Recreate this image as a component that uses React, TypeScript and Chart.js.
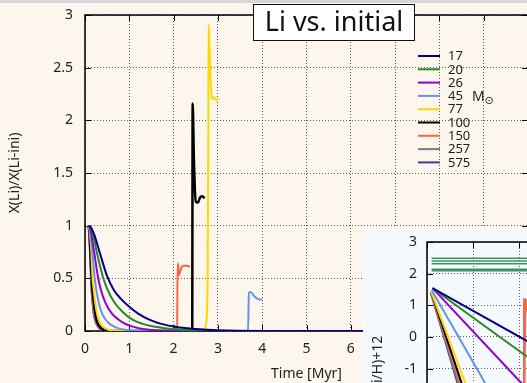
import React, { useEffect, useRef } from 'react';
import { Chart, registerables } from 'chart.js';

Chart.register(...registerables);

const FONT = '"Noto Sans", "DejaVu Sans", sans-serif';

// ---------- main chart data ----------
const masses = ['17', '20', '26', '45', '77', '100', '150', '257', '575'];
const colors = ['#00008b', '#228b22', '#9400d3', '#6495ed', '#ffd700', '#000000', '#ff6347', '#708090', '#483d8b'];

const xTicks = [0, 1, 2, 3, 4, 5, 6, 7, 8, 9, 10];
const yTicks = [0, 0.5, 1, 1.5, 2, 2.5, 3];

const t17 = [0.08, 0.14, 0.22, 0.35, 0.5, 0.65, 0.8, 1.0, 1.2, 1.44, 1.7, 1.97, 2.25, 2.5, 3.0, 4.0, 10];
const v17 = [1, 0.98, 0.9, 0.72, 0.52, 0.39, 0.31, 0.23, 0.165, 0.11, 0.07, 0.045, 0.028, 0.018, 0.006, 0, 0];

const t20 = [0.08, 0.13, 0.19, 0.27, 0.4, 0.5, 0.65, 0.85, 1.06, 1.3, 1.55, 1.8, 2.1, 2.5, 3.0, 3.5, 10];
const v20 = [1, 0.98, 0.9, 0.74, 0.52, 0.4, 0.28, 0.18, 0.11, 0.068, 0.043, 0.027, 0.015, 0.006, 0.001, 0, 0];

const t26 = [0.08, 0.11, 0.15, 0.21, 0.29, 0.36, 0.46, 0.6, 0.76, 0.9, 1.06, 1.3, 1.6, 2.0, 2.5, 10];
const v26 = [1, 0.98, 0.9, 0.74, 0.52, 0.39, 0.27, 0.17, 0.107, 0.07, 0.044, 0.02, 0.008, 0.002, 0, 0];

const t45 = [0.08, 0.1, 0.13, 0.17, 0.22, 0.26, 0.31, 0.38, 0.47, 0.55, 0.65, 0.8, 1.0, 1.3, 3.68, 3.7, 3.74, 3.8, 3.88, 3.95, 4.0];
const v45 = [1, 0.98, 0.9, 0.74, 0.5, 0.38, 0.27, 0.17, 0.107, 0.07, 0.044, 0.02, 0.006, 0, 0, 0.36, 0.37, 0.34, 0.31, 0.3, 0.3];

const t77 = [0.08, 0.1, 0.12, 0.145, 0.17, 0.2, 0.23, 0.27, 0.31, 0.35, 0.4, 0.5, 0.65, 0.8, 2.65, 2.71, 2.75, 2.77, 2.785, 2.79, 2.81, 2.84, 2.87, 2.92, 2.96, 3.02];
const v77 = [1, 0.97, 0.88, 0.74, 0.5, 0.38, 0.27, 0.17, 0.107, 0.07, 0.044, 0.015, 0.003, 0, 0, 0.03, 0.15, 0.6, 2.0, 2.91, 2.7, 2.35, 2.2, 2.22, 2.19, 2.21];

const t100 = [0.08, 0.095, 0.11, 0.13, 0.15, 0.17, 0.2, 0.23, 0.26, 0.29, 0.33, 0.4, 0.5, 0.6, 2.42, 2.43, 2.46, 2.5, 2.55, 2.6, 2.65, 2.7];
const v100 = [1, 0.97, 0.88, 0.7, 0.5, 0.38, 0.27, 0.17, 0.107, 0.07, 0.044, 0.015, 0.003, 0, 0, 2.16, 1.6, 1.23, 1.22, 1.27, 1.28, 1.26];

const t150 = [0.08, 0.095, 0.11, 0.125, 0.145, 0.165, 0.19, 0.22, 0.25, 0.28, 0.32, 0.4, 0.5, 0.6, 2.08, 2.09, 2.11, 2.12, 2.15, 2.19, 2.24, 2.3, 2.37];
const v150 = [1, 0.96, 0.86, 0.72, 0.5, 0.38, 0.27, 0.17, 0.107, 0.07, 0.044, 0.012, 0.002, 0, 0, 0.64, 0.6, 0.53, 0.57, 0.61, 0.62, 0.62, 0.61];

const t257 = [0.08, 0.09, 0.105, 0.12, 0.14, 0.155, 0.175, 0.2, 0.23, 0.26, 0.3, 0.37, 0.45, 0.55, 2.0];
const v257 = [1, 0.96, 0.86, 0.72, 0.5, 0.38, 0.27, 0.17, 0.107, 0.07, 0.044, 0.012, 0.002, 0, 0];

const t575 = [0.07, 0.085, 0.1, 0.115, 0.135, 0.15, 0.17, 0.195, 0.225, 0.255, 0.29, 0.36, 0.44, 0.55, 1.95];
const v575 = [1, 0.96, 0.86, 0.72, 0.5, 0.38, 0.27, 0.17, 0.107, 0.07, 0.044, 0.012, 0.002, 0, 0];

// ---------- inset data: log(Li/H)+12 ----------
const insetXTicks = [0, 1, 2, 3];
const insetYTicks = [-5, -4, -3, -2, -1, 0, 1, 2, 3];
const bandLevels = [2.49, 2.4, 2.31, 2.14, 2.09];
const bandT = [0.1, 3];

const i17T = [0.12, 2.13, 2.6];
const i17V = [1.54, -0.09, -0.47];
const i20T = [0.12, 2.17, 2.6];
const i20V = [1.54, -0.62, -1.07];
const i26T = [0.12, 2.02, 2.4];
const i26V = [1.54, -1.41, -2.0];
const i45T = [0.1, 1.26, 2.0];
const i45V = [1.48, -1.45, -3.32];
const i77T = [0.09, 0.83, 1.3];
const i77V = [1.43, -1.45, -3.28];
const i100T = [0.09, 0.75, 1.2];
const i100V = [1.42, -1.45, -3.41];
const i150T = [0.09, 0.72, 1.2, 2.105, 2.11, 2.115, 2.12, 2.13, 2.14, 2.15, 2.17];
const i150V = [1.4, -1.45, -3.5, -5, 1.22, -2, 1.1, -1, 1.2, 0.8, 1.0];
const i257T = [0.09, 0.68, 1.1];
const i257V = [1.37, -1.45, -3.46];
const i575T = [0.09, 0.66, 1.1];
const i575V = [1.37, -1.45, -3.66];

const mainSeries = [
  [t17, v17], [t20, v20], [t26, v26], [t45, v45], [t77, v77],
  [t100, v100], [t150, v150], [t257, v257], [t575, v575],
];
const insetSeries = [
  [i17T, i17V], [i20T, i20V], [i26T, i26V], [i45T, i45V], [i77T, i77V],
  [i100T, i100V], [i150T, i150V], [i257T, i257V], [i575T, i575V],
];

const pts = (T: number[], V: number[]) => T.map((t, i) => ({ x: t, y: V[i] }));

function drawFrame(chart: any) {
  const { ctx, chartArea: a, scales } = chart;
  ctx.save();
  ctx.strokeStyle = '#000';
  ctx.lineWidth = 1;
  ctx.beginPath();
  for (const tk of scales.x.ticks) {
    const px = Math.round(scales.x.getPixelForValue(tk.value)) + 0.5;
    ctx.moveTo(px, a.bottom); ctx.lineTo(px, a.bottom - 6);
    ctx.moveTo(px, a.top); ctx.lineTo(px, a.top + 6);
  }
  for (const tk of scales.y.ticks) {
    const py = Math.round(scales.y.getPixelForValue(tk.value)) + 0.5;
    ctx.moveTo(a.left, py); ctx.lineTo(a.left + 6, py);
    ctx.moveTo(a.right, py); ctx.lineTo(a.right - 6, py);
  }
  ctx.stroke();
  ctx.lineWidth = 1.5;
  ctx.strokeRect(a.left, a.top, a.right - a.left, a.bottom - a.top);
  ctx.restore();
}

const mainDeco = {
  id: 'mainDeco',
  beforeDraw(chart: any) {
    const { ctx, width, height } = chart;
    ctx.save();
    ctx.fillStyle = '#fcf6ed';
    ctx.fillRect(0, 0, width, height);
    ctx.fillStyle = '#d8d6da';
    ctx.fillRect(0, 0, width, 3);
    ctx.restore();
  },
  beforeDatasetsDraw(chart: any) {
    drawFrame(chart);
  },
  afterDraw(chart: any) {
    const { ctx } = chart;
    ctx.save();
    // legend
    chart.data.datasets.forEach((ds: any, i: number) => {
      const y = 56 + 13.3 * i;
      ctx.strokeStyle = ds.borderColor;
      ctx.lineWidth = 2;
      ctx.beginPath();
      ctx.moveTo(418, y);
      ctx.lineTo(440, y);
      ctx.stroke();
      ctx.fillStyle = '#222';
      ctx.font = `13px ${FONT}`;
      ctx.textAlign = 'left';
      ctx.textBaseline = 'middle';
      ctx.fillText(ds.label, 448, y + 0.5);
    });
    ctx.font = `14px ${FONT}`;
    ctx.fillText('M', 472, 97);
    ctx.font = `11px "DejaVu Sans", ${FONT}`;
    ctx.fillText('⊙', 484.5, 101.5);
    // title box
    ctx.fillStyle = '#ffffff';
    ctx.fillRect(253.5, 4.5, 161, 36);
    ctx.strokeStyle = '#111';
    ctx.lineWidth = 1;
    ctx.strokeRect(253.5, 4.5, 161, 36);
    ctx.fillStyle = '#111';
    ctx.font = `27px ${FONT}`;
    ctx.textAlign = 'center';
    ctx.textBaseline = 'middle';
    ctx.fillText('Li vs. initial', 334, 23);
    ctx.restore();
  },
};

const insetDeco = {
  id: 'insetDeco',
  beforeDraw(chart: any) {
    const { ctx, width, height } = chart;
    ctx.save();
    ctx.fillStyle = '#f6f9fd';
    ctx.fillRect(0, 0, width, height);
    ctx.restore();
  },
  beforeDatasetsDraw(chart: any) {
    drawFrame(chart);
  },
};

const tickFont = { family: FONT, size: 14 };
const gridOpts = { color: 'rgba(40,40,40,0.75)', lineWidth: 1, drawTicks: false };
const borderOpts = { display: false, dash: [1, 2] };

const fitY = (w: number) => (s: any) => { s.width = w; s.paddingTop = 0; s.paddingBottom = 0; };
const fitX = (h: number) => (s: any) => { s.height = h; s.paddingLeft = 0; s.paddingRight = 0; };

function mainConfig(): any {
  return {
    type: 'line',
    data: {
      datasets: mainSeries.map(([T, V], i) => ({
        label: masses[i],
        data: pts(T, V),
        borderColor: colors[i],
        backgroundColor: colors[i],
        borderWidth: i === 5 ? 2.5 : 2,
        pointRadius: 0,
        cubicInterpolationMode: 'monotone',
        fill: false,
      })),
    },
    options: {
      responsive: false,
      animation: false,
      devicePixelRatio: 1,
      layout: { padding: { top: 15, right: 13, left: 0, bottom: 0 } },
      plugins: { legend: { display: false }, tooltip: { enabled: false }, title: { display: false } },
      scales: {
        x: {
          type: 'linear', min: 0, max: 10,
          afterBuildTicks: (s: any) => { s.ticks = xTicks.map((v) => ({ value: v })); },
          afterFit: fitX(52),
          ticks: { padding: 10, color: '#222', font: tickFont, maxRotation: 0, autoSkip: false, callback: (v: any) => String(v) },
          grid: gridOpts,
          border: borderOpts,
          title: { display: true, text: 'Time [Myr]', color: '#222', font: tickFont, padding: { top: 0, bottom: 1 } },
        },
        y: {
          type: 'linear', min: 0, max: 3,
          afterBuildTicks: (s: any) => { s.ticks = yTicks.map((v) => ({ value: v })); },
          afterFit: fitY(85),
          ticks: { padding: 12, color: '#222', font: tickFont, callback: (v: any) => String(v) },
          grid: gridOpts,
          border: borderOpts,
          title: { display: true, text: 'X(Li)/X(Li-ini)', color: '#222', font: { family: FONT, size: 14 }, padding: { top: 7, bottom: 0 } },
        },
      },
    },
    plugins: [mainDeco],
  };
}

function insetConfig(): any {
  const bands = bandLevels.map((lv) => ({
    label: 'band',
    data: pts(bandT, [lv, lv]),
    borderColor: '#3a9660',
    borderWidth: 1.5,
    pointRadius: 0,
    fill: false,
  }));
  const lines = insetSeries.map(([T, V], i) => ({
    label: masses[i],
    data: pts(T, V),
    borderColor: colors[i],
    borderWidth: 2,
    pointRadius: 0,
    tension: 0,
    fill: false,
  }));
  return {
    type: 'line',
    data: { datasets: [...bands, ...lines] },
    options: {
      responsive: false,
      animation: false,
      devicePixelRatio: 1,
      layout: { padding: { top: 14, right: 10, left: 0, bottom: 0 } },
      plugins: { legend: { display: false }, tooltip: { enabled: false }, title: { display: false } },
      scales: {
        x: {
          type: 'linear', min: 0, max: 3,
          afterBuildTicks: (s: any) => { s.ticks = insetXTicks.map((v) => ({ value: v })); },
          afterFit: fitX(40),
          ticks: { padding: 8, color: '#222', font: tickFont, maxRotation: 0, callback: (v: any) => String(v) },
          grid: gridOpts,
          border: borderOpts,
        },
        y: {
          type: 'linear', min: -5.44, max: 3,
          afterBuildTicks: (s: any) => { s.ticks = insetYTicks.map((v) => ({ value: v })); },
          afterFit: fitY(64),
          ticks: { padding: 10, color: '#222', font: tickFont, callback: (v: any) => String(v) },
          grid: gridOpts,
          border: borderOpts,
          title: { display: true, text: 'log(Li/H)+12', color: '#222', font: tickFont, padding: { top: 7, bottom: 0 } },
        },
      },
    },
    plugins: [insetDeco],
  };
}

export default function App() {
  const mainRef = useRef<HTMLCanvasElement>(null);
  const insetRef = useRef<HTMLCanvasElement>(null);
  useEffect(() => {
    const c1 = new Chart(mainRef.current as HTMLCanvasElement, mainConfig());
    const c2 = new Chart(insetRef.current as HTMLCanvasElement, insetConfig());
    return () => {
      c1.destroy();
      c2.destroy();
    };
  }, []);
  return (
    <div style={{ position: 'fixed', left: 0, top: 0, width: 527, height: 383, overflow: 'hidden', background: '#fcf6ed' }}>
      <canvas ref={mainRef} width={541} height={383} style={{ position: 'absolute', left: 0, top: 0, width: 541, height: 383 }} />
      <canvas ref={insetRef} width={212} height={321} style={{ position: 'absolute', left: 363, top: 228, width: 212, height: 321 }} />
    </div>
  );
}
